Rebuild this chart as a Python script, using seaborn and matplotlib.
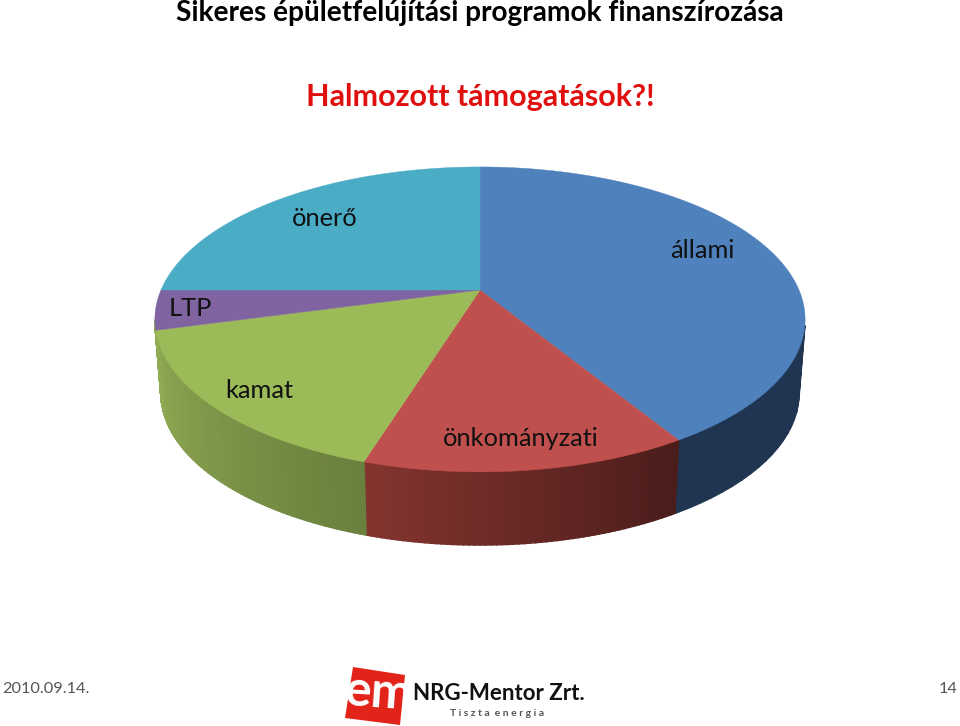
# 3D looking pie of the funding shares, drawn in pixel coordinates of the slide
import numpy as np
import matplotlib
matplotlib.use("Agg")
import matplotlib.pyplot as plt
import seaborn as sns

# values (share in %, clockwise from 12 o'clock)
slices = ["állami", "önkományzati", "kamat", "LTP", "önerő"]
shares = [41.3, 13.5, 16.0, 4.2, 25.0]

label_x = [702, 521, 259, 190, 325]
label_y = [250, 439, 391, 308, 218]

top_colors = ["#4F81BD", "#C0504D", "#9BBB59", "#8064A2", "#4BACC6"]
# wall gradient per slice, first colour = start of the slice clockwise
# LTP wall is only the sliver at the left rim, in the picture it reads as green
wall_colors = [("#1F3552", "#1F3552"), ("#4A1D1B", "#84342F"), ("#6A803E", "#8FAB53"),
               ("#8FAB53", "#8FAB53"), ("#2F7488", "#2F7488")]

# perspective of the disc
cx, cy = 480, 290
persp = 0.193
k_top, a_top = 319, 146.8
k_low, a_low, cy_low = 313, 146.0, 364


def project(t, k, a, y0):
    x = np.sin(t)
    y = np.cos(t)
    d = 1 + persp * y
    return cx + k * x / d, y0 - a * y / d


sns.set_theme(style="white")
plt.rcParams["font.family"] = ["Lato", "DejaVu Sans"]

fig = plt.figure(figsize=(9.6, 7.26), dpi=100)
ax = fig.add_axes([0, 0, 1, 1])
ax.set_xlim(0, 960)
ax.set_ylim(726, 0)
ax.axis("off")

edges = np.radians(np.concatenate([[0], np.cumsum(shares)]) * 3.6)

# side walls first, thin strips for the shading
for i in range(len(shares)):
    t = np.linspace(edges[i], edges[i + 1], 60)
    t = t[np.cos(t) < -persp]
    if len(t) < 2:
        continue
    shades = sns.blend_palette(wall_colors[i], len(t) - 1)
    xt, yt = project(t, k_top, a_top, cy)
    xb, yb = project(t, k_low, a_low, cy_low)
    for j in range(len(t) - 1):
        ax.fill([xt[j], xt[j + 1], xb[j + 1], xb[j]],
                [yt[j], yt[j + 1], yb[j + 1], yb[j]],
                color=shades[j], lw=1.2, zorder=2)

# top of the disc
for i in range(len(shares)):
    t = np.linspace(edges[i], edges[i + 1], 120)
    xt, yt = project(t, k_top, a_top, cy)
    ax.fill(np.r_[cx, xt], np.r_[cy, yt], color=top_colors[i], lw=0.3, zorder=3)

for name, x, y in zip(slices, label_x, label_y):
    ax.text(x, y, name, fontsize=18.3, color="#111111", ha="center", va="center", zorder=5)

# headings
ax.text(480, 13, "Sikeres épületfelújítási programok finanszírozása", fontsize=20.2,
        fontweight="bold", color="black", ha="center", va="center")
ax.text(480, 97, "Halmozott támogatások?!", fontsize=22,
        fontweight="bold", color="#E0100F", ha="center", va="center")

# footer
ax.text(2, 689, "2010.09.14.", fontsize=11.8, color="#555555", ha="left", va="center")
ax.text(958, 689, "14", fontsize=11.8, color="#555555", ha="right", va="center")

# logo
ax.fill([353, 405, 400, 345], [667, 675, 725, 718], color="#E2231A", lw=0, zorder=3)
ax.text(378, 693, "em", fontsize=36, fontweight="bold", color="white",
        ha="center", va="center", rotation=-4, zorder=4)
ax.text(413, 693, "NRG-Mentor Zrt.", fontsize=16, fontweight="bold", color="#111111",
        ha="left", va="center", zorder=4)
ax.text(497, 714, "T i s z t a  e n e r g i a", fontsize=7.5, fontweight="bold", color="#555555",
        ha="center", va="center", zorder=4)

fig.savefig("out.png", dpi=100)
